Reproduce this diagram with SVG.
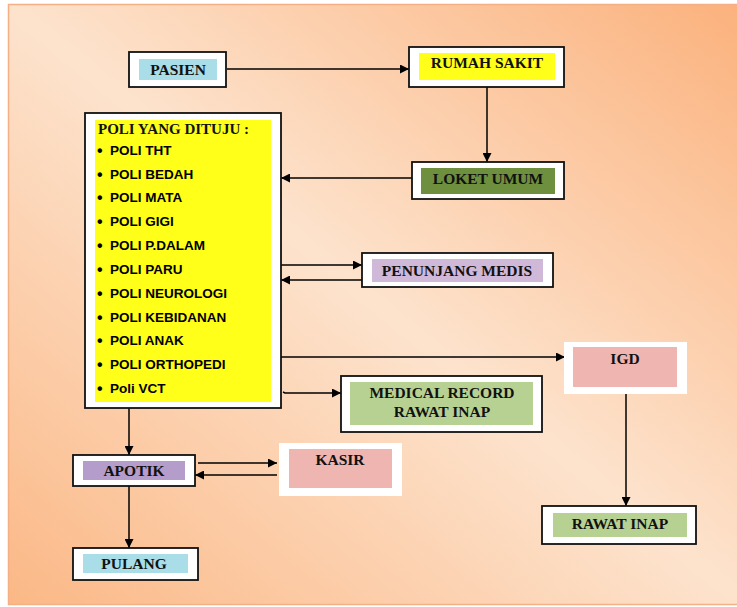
<svg xmlns="http://www.w3.org/2000/svg" width="737" height="607" viewBox="0 0 737 607">
<defs>
<linearGradient id="bg" x1="0" y1="1" x2="1" y2="0">
<stop offset="0" stop-color="#fbb886"/>
<stop offset="0.5" stop-color="#fde3cd"/>
<stop offset="1" stop-color="#fbb17c"/>
</linearGradient>
<marker id="ah" viewBox="0 0 10 10" refX="10" refY="5" markerWidth="10" markerHeight="9" markerUnits="userSpaceOnUse" orient="auto">
<path d="M0,0 L10,5 L0,10 z" fill="#000"/>
</marker>
<style>
.box{fill:#fff;stroke:#111;stroke-width:1.8}
.wbox{fill:#fff}
.lbl{font-family:"Liberation Serif","Times New Roman",serif;font-weight:bold;font-size:15.5px;fill:#111;text-anchor:middle}
.item{font-family:"Liberation Sans",Arial,sans-serif;font-weight:bold;font-size:13.5px;fill:#000}
.bul{font-size:16px}
.ttl{font-family:"Liberation Serif","Times New Roman",serif;font-weight:bold;font-size:15px;fill:#111}
.con{stroke:#000;stroke-width:1.5;fill:none}
.arr{marker-end:url(#ah)}
</style>
</defs>
<rect x="0" y="0" width="737" height="607" fill="#fff"/>
<rect x="8.5" y="4.5" width="740" height="600" fill="url(#bg)" stroke="#f4b084" stroke-width="1.5"/>

<g id="connectors">
<line class="con arr" x1="227" y1="69" x2="409" y2="69"/>
<line class="con arr" x1="487" y1="87" x2="487" y2="162"/>
<line class="con arr" x1="412" y1="178" x2="281" y2="178"/>
<line class="con arr" x1="281" y1="265" x2="362" y2="265"/>
<line class="con arr" x1="362" y1="280" x2="281" y2="280"/>
<line class="con arr" x1="277" y1="357" x2="565" y2="357"/>
<polyline class="con arr" points="283,392 285,393 341,393"/>
<line class="con arr" x1="129" y1="408" x2="129" y2="455"/>
<line class="con arr" x1="198" y1="463" x2="277" y2="463"/>
<line class="con arr" x1="277" y1="475" x2="195" y2="475"/>
<line class="con arr" x1="129" y1="486" x2="129" y2="548"/>
<line class="con arr" x1="626" y1="394" x2="626" y2="506"/>
</g>

<g id="pasien">
<rect class="box" x="129" y="52" width="97" height="35"/>
<rect x="139" y="59" width="78" height="21" fill="#a9dde8"/>
<text class="lbl" x="178" y="75">PASIEN</text>
</g>

<g id="rumah-sakit">
<rect class="box" x="409" y="47" width="155" height="40"/>
<rect x="419" y="53" width="136" height="27" fill="#ffff1a"/>
<text class="lbl" x="487" y="68">RUMAH SAKIT</text>
</g>

<g id="loket-umum">
<rect class="box" x="412" y="162" width="152" height="37"/>
<rect x="421" y="168" width="134" height="26" fill="#6d8f3e"/>
<text class="lbl" x="488" y="184">LOKET UMUM</text>
</g>

<g id="poli">
<rect class="box" x="85" y="113" width="196" height="295"/>
<rect x="95" y="120" width="176" height="282" fill="#ffff1a"/>
<text class="ttl" x="98" y="134">POLI YANG DITUJU :</text>
<text class="item" x="97" y="155"><tspan class="bul" dy="1">•</tspan><tspan x="110" dy="-1">POLI THT</tspan></text>
<text class="item" x="97" y="179"><tspan class="bul" dy="1">•</tspan><tspan x="110" dy="-1">POLI BEDAH</tspan></text>
<text class="item" x="97" y="202"><tspan class="bul" dy="1">•</tspan><tspan x="110" dy="-1">POLI MATA</tspan></text>
<text class="item" x="97" y="226"><tspan class="bul" dy="1">•</tspan><tspan x="110" dy="-1">POLI GIGI</tspan></text>
<text class="item" x="97" y="250"><tspan class="bul" dy="1">•</tspan><tspan x="110" dy="-1">POLI P.DALAM</tspan></text>
<text class="item" x="97" y="274"><tspan class="bul" dy="1">•</tspan><tspan x="110" dy="-1">POLI PARU</tspan></text>
<text class="item" x="97" y="298"><tspan class="bul" dy="1">•</tspan><tspan x="110" dy="-1">POLI NEUROLOGI</tspan></text>
<text class="item" x="97" y="322"><tspan class="bul" dy="1">•</tspan><tspan x="110" dy="-1">POLI KEBIDANAN</tspan></text>
<text class="item" x="97" y="345"><tspan class="bul" dy="1">•</tspan><tspan x="110" dy="-1">POLI ANAK</tspan></text>
<text class="item" x="97" y="369"><tspan class="bul" dy="1">•</tspan><tspan x="110" dy="-1">POLI ORTHOPEDI</tspan></text>
<text class="item" x="97" y="393"><tspan class="bul" dy="1">•</tspan><tspan x="110" dy="-1">Poli VCT</tspan></text>
</g>

<g id="penunjang-medis">
<rect class="box" x="362" y="253" width="191" height="34"/>
<rect x="372" y="259" width="171" height="23" fill="#cfb8d8"/>
<text class="lbl" x="457" y="276">PENUNJANG MEDIS</text>
</g>

<g id="igd">
<rect class="wbox" x="564" y="342" width="123" height="52"/>
<rect x="573" y="347" width="104" height="40" fill="#efb5b0"/>
<text class="lbl" x="625" y="364">IGD</text>
</g>

<g id="medical-record">
<rect class="box" x="341" y="376" width="201" height="56"/>
<rect x="350" y="382" width="183" height="43" fill="#b7d193"/>
<text class="lbl" x="442" y="398">MEDICAL RECORD</text>
<text class="lbl" x="442" y="417">RAWAT INAP</text>
</g>

<g id="apotik">
<rect class="box" x="73" y="455" width="122" height="31"/>
<rect x="83" y="461" width="102" height="19" fill="#b49dcb"/>
<text class="lbl" x="134" y="476">APOTIK</text>
</g>

<g id="kasir">
<rect class="wbox" x="279" y="443" width="123" height="53"/>
<rect x="289" y="449" width="103" height="39" fill="#efb5b0"/>
<text class="lbl" x="340" y="465">KASIR</text>
</g>

<g id="pulang">
<rect class="box" x="73" y="548" width="125" height="32"/>
<rect x="83" y="554" width="105" height="19" fill="#a9dde8"/>
<text class="lbl" x="134" y="569">PULANG</text>
</g>

<g id="rawat-inap">
<rect class="box" x="542" y="506" width="154" height="38"/>
<rect x="553" y="513" width="134" height="24" fill="#b7d193"/>
<text class="lbl" x="620" y="529">RAWAT INAP</text>
</g>
</svg>
